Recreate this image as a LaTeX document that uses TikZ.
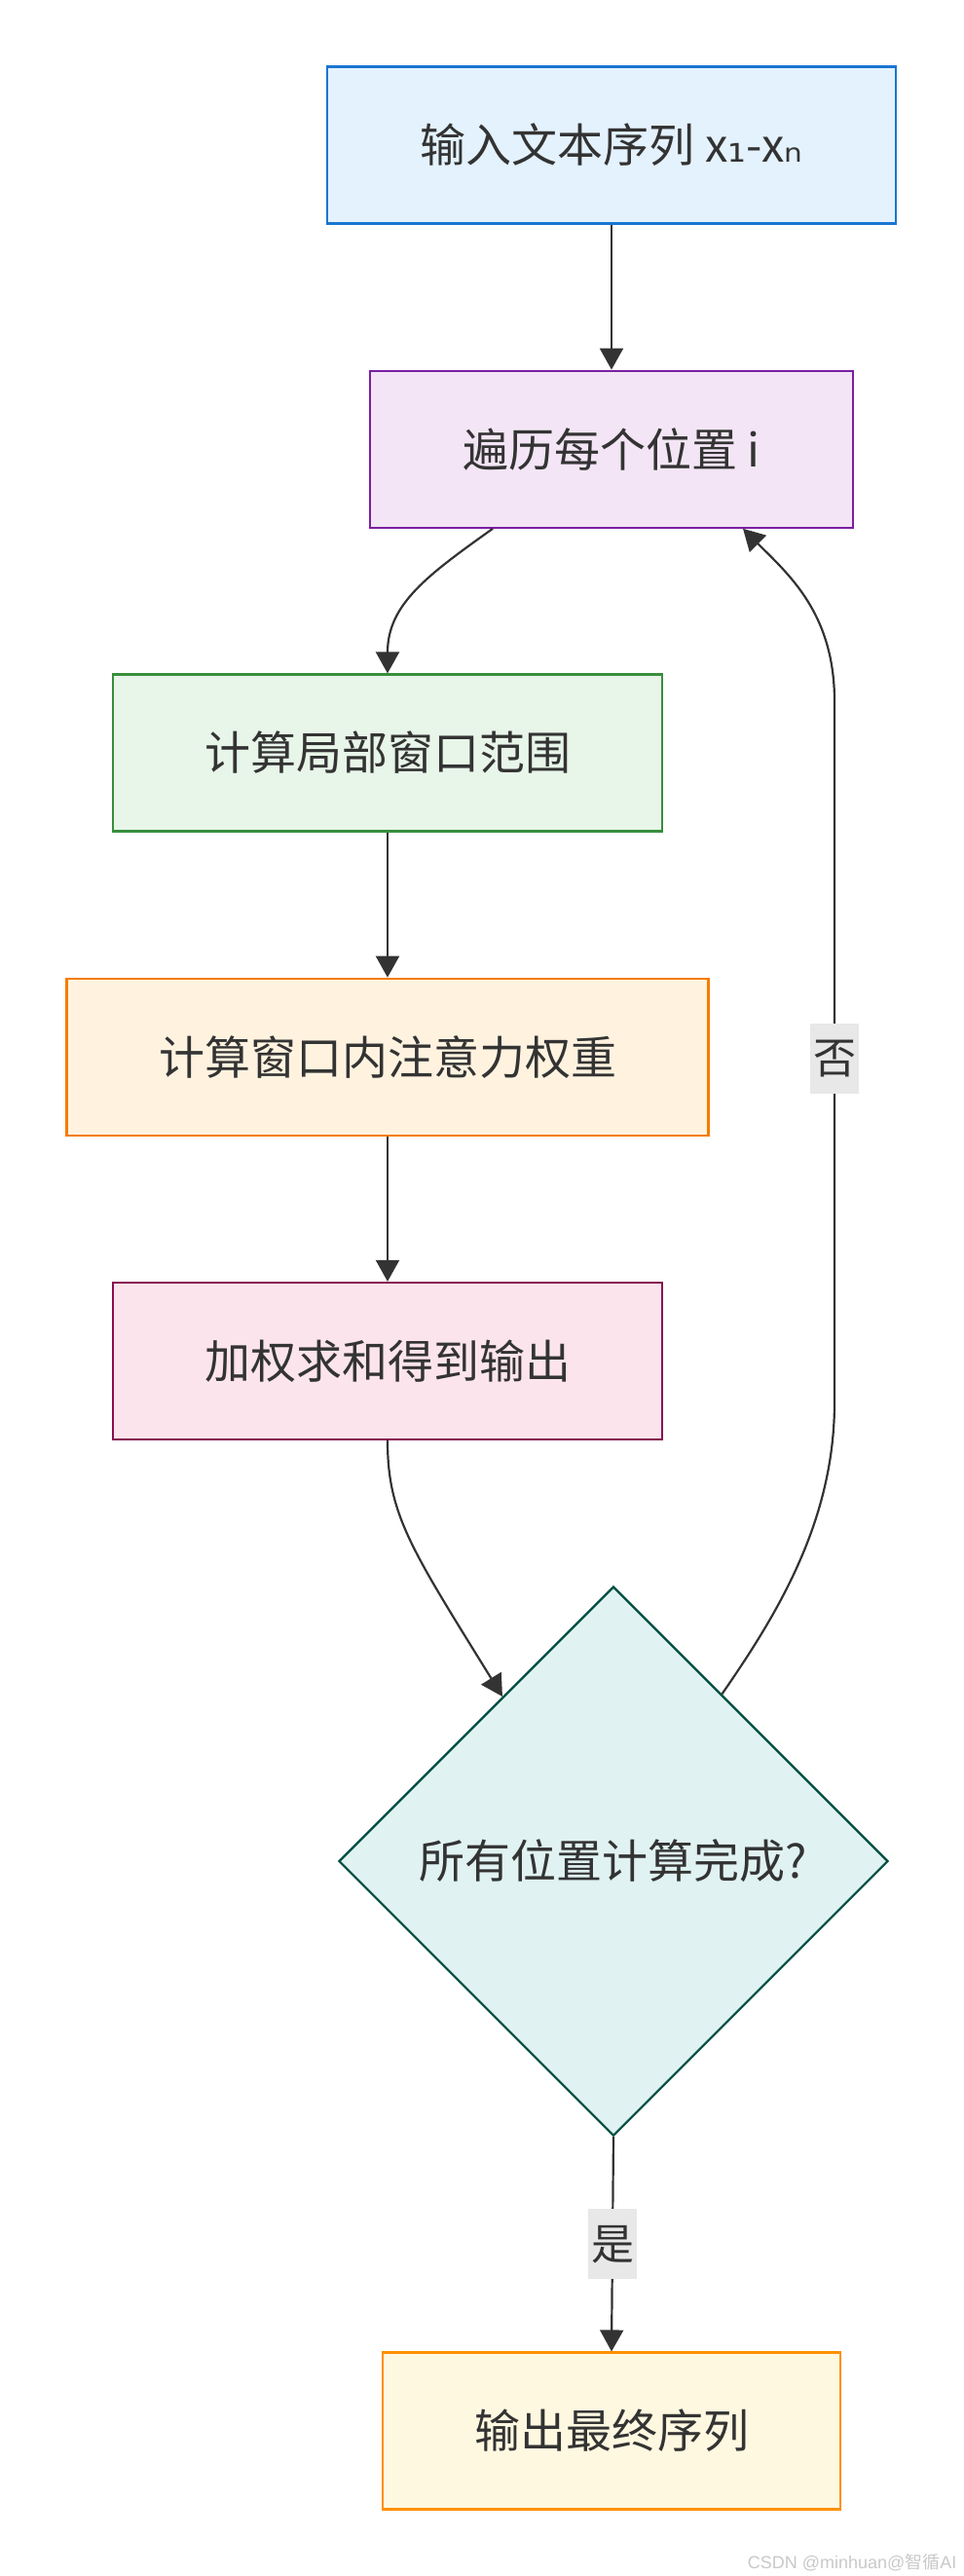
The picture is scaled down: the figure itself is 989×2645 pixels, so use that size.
\documentclass[tikz,border=0pt]{standalone}
\usepackage{fontspec}
\setmainfont{Noto Sans CJK SC}
\newfontfamily\subfont{DejaVu Sans}
\newfontfamily\markfont{Liberation Sans}
\usetikzlibrary{arrows.meta}
\usetikzlibrary{positioning}
\usetikzlibrary{shapes.geometric}
\usetikzlibrary{calc}
\definecolor{ink}{HTML}{333333}
\definecolor{labelbg}{HTML}{E8E8E8}
\definecolor{markc}{HTML}{C8C8C8}
\definecolor{blueF}{HTML}{E3F2FD}\definecolor{blueD}{HTML}{1976D2}
\definecolor{purpleF}{HTML}{F3E5F5}\definecolor{purpleD}{HTML}{7B1FA2}
\definecolor{greenF}{HTML}{E8F5E9}\definecolor{greenD}{HTML}{388E3C}
\definecolor{orangeF}{HTML}{FFF3E0}\definecolor{orangeD}{HTML}{F57C00}
\definecolor{pinkF}{HTML}{FCE4EC}\definecolor{pinkD}{HTML}{880E4F}
\definecolor{tealF}{HTML}{E0F2F1}\definecolor{tealD}{HTML}{004D40}
\definecolor{amberF}{HTML}{FFF8E1}\definecolor{amberD}{HTML}{FF8F00}
\tikzstyle{block} = [draw, rectangle, line width=2.2pt, minimum height=161pt, text=ink, font=\fontsize{47}{56}\selectfont]
\tikzstyle{decision} = [draw, diamond, aspect=1, line width=2.2pt, minimum width=564pt, minimum height=564pt, inner sep=0pt, text=ink, font=\fontsize{47}{56}\selectfont]
\tikzstyle{line} = [draw, line width=2.2pt, color=ink, -{Triangle[length=22pt,width=24pt]}]
\tikzstyle{edge label} = [fill=labelbg, text=ink, inner xsep=3pt, inner ysep=0pt, minimum height=72pt, font=\fontsize{44}{52}\selectfont]

\begin{document}
\begin{tikzpicture}[x=1pt, y=-1pt]
    \useasboundingbox (0,0) rectangle (989,2645);

    \node[block, fill=blueF, draw=blueD, minimum width=584pt, name=input] at (628,149) {输入文本序列 x{\subfont ₁}-x{\subfont ₙ}};
    \node[block, fill=purpleF, draw=purpleD, minimum width=496pt, below=149pt of input, name=iter] {遍历每个位置 i};
    \node[block, fill=greenF, draw=greenD, minimum width=564pt, name=window] at (398,773) {计算局部窗口范围};
    \node[block, fill=orangeF, draw=orangeD, minimum width=659pt, below=149pt of window, name=attn] {计算窗口内注意力权重};
    \node[block, fill=pinkF, draw=pinkD, minimum width=564pt, below=149pt of attn, name=wsum] {加权求和得到输出};
    \node[decision, fill=tealF, draw=tealD, name=check] at (630,1911) {所有位置计算完成?};
    \node[block, fill=amberF, draw=amberD, minimum width=470pt, name=output] at (628,2496) {输出最终序列};
    \node[anchor=south east, text=markc, font=\fontsize{18}{22}\selectfont, name=mark] at (986,2643) {{\markfont CSDN @minhuan@}智循{\markfont AI}};

    \draw[line] (input) -- (iter);
    \draw[line] ([xshift=-122pt]iter.south) .. controls (440,590) and (398,620) .. (window.north);
    \draw[line] (window) -- (attn);
    \draw[line] (attn) -- (wsum);
    \draw[line] (wsum.south) .. controls (398,1555) and (422,1590) .. (check.124);
    \draw[line] (check.57) .. controls (800,1655) and (857,1560) .. (857,1440)
       -- node[edge label, pos=0.49] {否} (857,720)
       .. controls (857,630) and (810,590) .. ([xshift=135pt]iter.south);
    \draw[line] (check.south) -- node[edge label] {是} (output.north);
\end{tikzpicture}
\end{document}
